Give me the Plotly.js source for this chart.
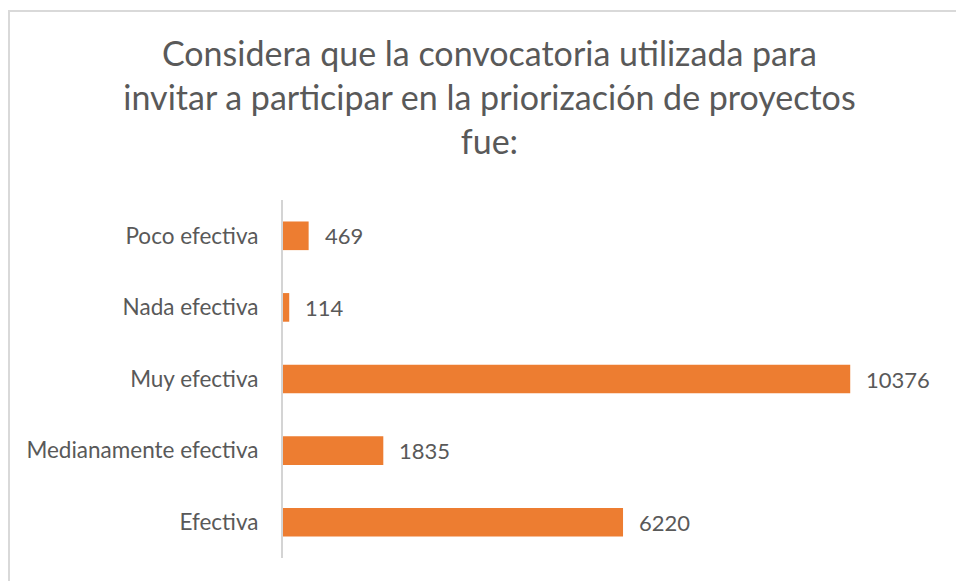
<!DOCTYPE html>
<html>
<head>
<meta charset="utf-8">
<script src="https://cdn.plot.ly/plotly-3.0.1.min.js"></script>
<style>
  body { margin: 0; background: #fff; }
  #graph { width: 956px; height: 581px; }
</style>
</head>
<body>
<div id="graph"></div>
<script>
// Respuestas, de arriba hacia abajo
var categorias = ['Poco efectiva', 'Nada efectiva', 'Muy efectiva', 'Medianamente efectiva', 'Efectiva'];
var respuestas = [469, 114, 10376, 1835, 6220];

var tituloTexto = 'Considera que la convocatoria utilizada para<br>invitar a participar en la priorización de proyectos<br>fue:';

var gris = '#595959';
var naranja = '#ED7D31';

var data = [
  {
    type: 'bar',
    orientation: 'h',
    x: respuestas,
    y: categorias,
    marker: { color: naranja },
    hoverinfo: 'x+y'
  }
];

// Etiquetas de datos a la derecha de cada barra
var etiquetas = [];
for (var i = 0; i < categorias.length; i++) {
  etiquetas.push({
    x: respuestas[i],
    y: categorias[i],
    xref: 'x',
    yref: 'y',
    text: String(respuestas[i]),
    showarrow: false,
    xanchor: 'left',
    xshift: 14,
    font: { family: 'Lato, sans-serif', size: 22, color: gris }
  });
}

var layout = {
  width: 956,
  height: 581,
  margin: { l: 283, r: 17, t: 200, b: 23 },
  paper_bgcolor: '#fff',
  plot_bgcolor: '#fff',
  showlegend: false,
  bargap: 0.6,
  title: {
    text: tituloTexto,
    font: { family: 'Lato, sans-serif', size: 34, color: gris },
    xref: 'container',
    x: 0.512,
    xanchor: 'center',
    yref: 'container',
    y: 1 - 66 / 581,
    yanchor: 'top'
  },
  xaxis: {
    range: [0, 12000],
    showgrid: false,
    zeroline: false,
    showline: false,
    showticklabels: false,
    ticks: ''
  },
  yaxis: {
    type: 'category',
    autorange: 'reversed',
    showgrid: false,
    zeroline: false,
    showline: true,
    linecolor: '#d4d4d4',
    linewidth: 2,
    ticks: '',
    ticklabelstandoff: 18,
    tickfont: { family: 'Lato, sans-serif', size: 22.5, color: gris }
  },
  annotations: etiquetas,
  shapes: [
    {
      type: 'rect',
      xref: 'paper',
      yref: 'paper',
      x0: -0.4177,
      x1: 1.05,
      y0: -0.08,
      y1: 1.528,
      line: { color: '#d9d9d9', width: 2 },
      fillcolor: 'rgba(0,0,0,0)',
      layer: 'below'
    }
  ]
};

Plotly.newPlot('graph', data, layout, { displayModeBar: false, staticPlot: true });
</script>
</body>
</html>
